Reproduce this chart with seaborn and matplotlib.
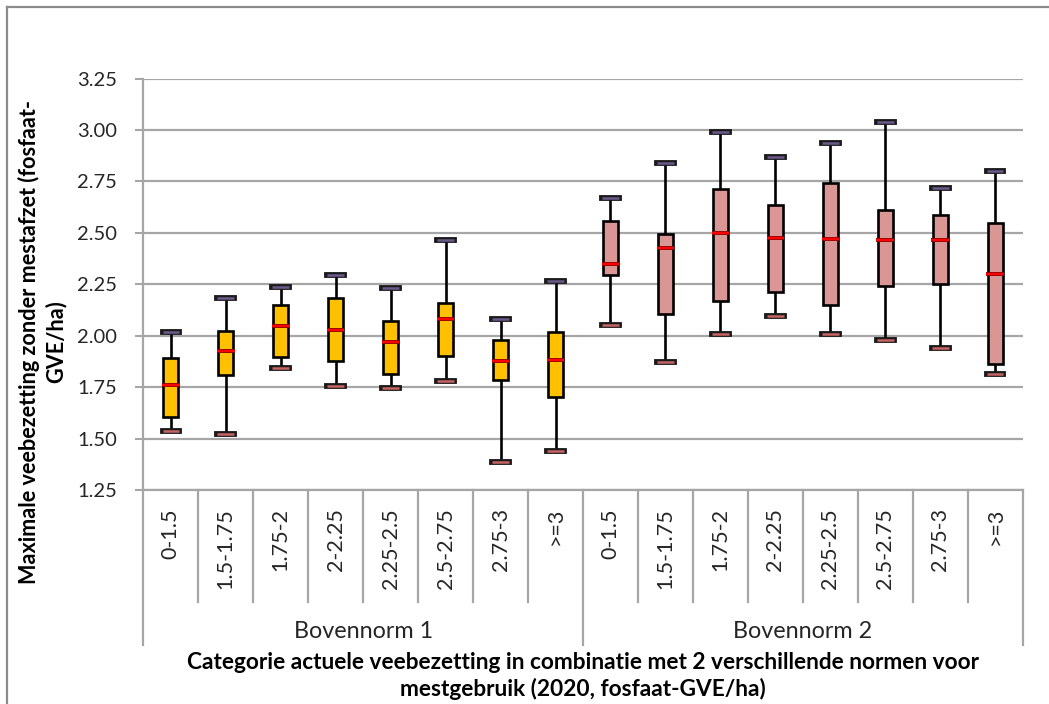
import numpy as np
import pandas as pd
import matplotlib
matplotlib.use("Agg")
import matplotlib.pyplot as plt
import matplotlib.patheffects as pe
import matplotlib.transforms as mtransforms
from matplotlib.lines import Line2D
import seaborn as sns

# ---------------- data ----------------
categories = ["0-1.5", "1.5-1.75", "1.75-2", "2-2.25", "2.25-2.5", "2.5-2.75", "2.75-3", ">=3"]
groups = ["Bovennorm 1", "Bovennorm 2"]

# Bovennorm 1
b1_min = [1.535, 1.524, 1.843, 1.757, 1.747, 1.780, 1.386, 1.438]
b1_q1 = [1.605, 1.810, 1.896, 1.875, 1.812, 1.903, 1.785, 1.703]
b1_med = [1.760, 1.924, 2.048, 2.026, 1.968, 2.082, 1.877, 1.883]
b1_q3 = [1.891, 2.023, 2.147, 2.181, 2.073, 2.159, 1.977, 2.016]
b1_max = [2.020, 2.184, 2.236, 2.293, 2.230, 2.465, 2.081, 2.264]

# Bovennorm 2
b2_min = [2.053, 1.870, 2.008, 2.094, 2.008, 1.980, 1.939, 1.814]
b2_q1 = [2.296, 2.104, 2.171, 2.212, 2.149, 2.241, 2.252, 1.864]
b2_med = [2.350, 2.424, 2.499, 2.476, 2.471, 2.465, 2.465, 2.300]
b2_q3 = [2.558, 2.494, 2.713, 2.636, 2.740, 2.609, 2.586, 2.546]
b2_max = [2.669, 2.840, 2.988, 2.868, 2.938, 3.040, 2.720, 2.800]

yticks = [1.25, 1.50, 1.75, 2.00, 2.25, 2.50, 2.75, 3.00, 3.25]

stats = {
    "Bovennorm 1": (b1_min, b1_q1, b1_med, b1_q3, b1_max),
    "Bovennorm 2": (b2_min, b2_q1, b2_med, b2_q3, b2_max),
}

# five-number summary per box -> 5 points give exact quartiles
rows = []
order = []
for g in groups:
    mn, q1, md, q3, mx = stats[g]
    for i, c in enumerate(categories):
        key = f"{g}|{c}"
        order.append(key)
        for v in (mn[i], q1[i], md[i], q3[i], mx[i]):
            rows.append({"key": key, "group": g, "value": v})
df = pd.DataFrame(rows)

# ---------------- style ----------------
GOLD = "#FFC000"
PINK = "#D99694"
GRID = "#a6a6a6"
FONT = ["Lato", "DejaVu Sans"]
plt.rcParams["font.family"] = FONT

W, H = 1049, 704
fig = plt.figure(figsize=(W / 100, H / 100), dpi=100)
ax_l, ax_r, ax_t, ax_b = 143.3, 1022.7, 78.5, 490.0
ax = fig.add_axes([ax_l / W, 1 - ax_b / H, (ax_r - ax_l) / W, (ax_b - ax_t) / H])

sns.boxplot(
    data=df, x="key", y="value", hue="group", order=order, hue_order=groups,
    palette=[GOLD, PINK], saturation=1, dodge=False, width=0.27,
    whis=(0, 100), showfliers=False, legend=False, linecolor="black",
    linewidth=1.9, ax=ax,
    medianprops=dict(color="#ff0000", linewidth=1.6),
    whiskerprops=dict(color="black", linewidth=1.9),
    capprops=dict(linewidth=1.8),
)

# style caps and medians
for cont in ax.containers:
    caps = list(cont.caps)
    for j, cap in enumerate(caps):
        xd = np.asarray(cap.get_xdata(), dtype=float)
        cx = xd.mean()
        cap.set_xdata([cx - 0.15, cx + 0.15])
        cap.set_solid_capstyle("butt")
        cap.set_color("#6a5a8c" if j % 2 == 1 else "#c86464")
        cap.set_path_effects([pe.Stroke(linewidth=4.2, foreground="#1a1a1a", capstyle="projecting"), pe.Normal()])
    for med in cont.medians:
        xd = np.asarray(med.get_xdata(), dtype=float)
        cx = xd.mean()
        med.set_xdata([cx - 0.16, cx + 0.16])
        med.set_solid_capstyle("butt")
        med.set_path_effects([pe.Stroke(linewidth=2.8, foreground="#8b0000"), pe.Normal()])
    for box in cont.boxes:
        box.set_edgecolor("black")
        box.set_linewidth(1.9)

ax.set_ylim(1.25, 3.25)
ax.set_xlim(-0.5, 15.5)
ax.set_yticks(yticks)
ax.set_yticklabels([f"{t:.2f}" for t in yticks])
ax.set_xticks(range(len(order)))
ax.set_xticklabels(categories * 2, rotation=90)

ax.yaxis.grid(True, color=GRID, linewidth=1.6)
ax.xaxis.grid(False)
ax.set_axisbelow(True)
for s in ["top", "right"]:
    ax.spines[s].set_visible(False)
for s in ["left", "bottom"]:
    ax.spines[s].set_color(GRID)
    ax.spines[s].set_linewidth(1.6)

ax.tick_params(axis="y", length=6, width=1.5, color=GRID, pad=13, labelsize=14.5, labelcolor="#262626")
ax.tick_params(axis="x", length=0, pad=13, labelsize=15.5, labelcolor="#262626")
for t in ax.get_xticklabels() + ax.get_yticklabels():
    t.set_fontfamily(FONT)

ax.set_xlabel("")
ax.set_ylabel("")

# multi-level category axis separators
tr = mtransforms.blended_transform_factory(ax.transData, fig.transFigure)
n = len(order)
for k in range(n + 1):
    x = k - 0.5
    if k % len(categories) == 0:
        y_end = 1 - 645 / H
    else:
        y_end = 1 - 602 / H
    ax.add_line(Line2D([x, x], [1 - ax_b / H, y_end], transform=tr, color=GRID,
                       linewidth=1.6, clip_on=False))

for gi, g in enumerate(groups):
    xc = gi * len(categories) + (len(categories) - 1) / 2
    ax.text(xc, 1 - 632 / H, g, transform=tr, ha="center", va="center",
            fontsize=16.8, color="#262626")

# axis titles
fig.text(583 / W, 1 - 676 / H,
         "Categorie actuele veebezetting in combinatie met 2 verschillende normen voor\nmestgebruik (2020, fosfaat-GVE/ha)",
         ha="center", va="center", multialignment="center", fontsize=16.3,
         fontweight="bold", linespacing=1.3, color="black")
fig.text(42 / W, 1 - 342 / H,
         "Maximale veebezetting zonder mestafzet (fosfaat-\nGVE/ha)",
         ha="center", va="center", rotation=90, multialignment="center",
         fontsize=15.6, fontweight="bold", linespacing=1.3, color="black")

# outer chart frame (partially visible)
fig.add_artist(Line2D([6.5 / W, 1.0], [1 - 6.5 / H, 1 - 6.5 / H], transform=fig.transFigure,
                      color="#8c8c8c", linewidth=1.6))
fig.add_artist(Line2D([6.5 / W, 6.5 / W], [0.0, 1 - 6.5 / H], transform=fig.transFigure,
                      color="#8c8c8c", linewidth=1.6))

fig.savefig("out.png", dpi=100)
